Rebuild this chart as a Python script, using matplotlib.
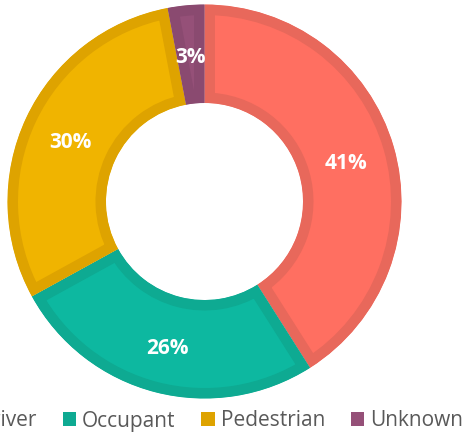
import matplotlib
matplotlib.use("Agg")
import matplotlib.pyplot as plt
from matplotlib.patches import Patch

categories = ["Driver", "Occupant", "Pedestrian", "Unknown"]
values = [41, 26, 30, 3]
fill_colors = ["#FF6F61", "#0DB8A0", "#F0B400", "#955078"]
edge_colors = ["#E8685B", "#0EAA92", "#DEA300", "#8A4A70"]
legend_colors = ["#E8685B", "#0EAA92", "#DEA300", "#955078"]

plt.rcParams['font.family'] = ['Open Sans', 'DejaVu Sans']

W, H = 464, 434
cx, cy, R = 204.5, 201.5, 197.0
fig = plt.figure(figsize=(W / 100, H / 100), dpi=100)
ax = fig.add_axes([0, 0, 1, 1])
ax.axis('off')

wedges, texts, autotexts = ax.pie(
    values, colors=fill_colors, startangle=90, counterclock=False,
    radius=1.0, wedgeprops=dict(width=0.5, linewidth=0),
    autopct=lambda p: f"{p:.0f}%", pctdistance=0.75,
    textprops=dict(color="white", fontweight="bold", fontsize=15))
ax.set_aspect('auto')
ax.set_xlim(-cx / R, (W - cx) / R)
ax.set_ylim(-(H - cy) / R, cy / R)

for t in autotexts:
    x, y = t.get_position()
    t.set_position((x, y - 3.5 / R))

border_px = 10.5
for w, ec in zip(wedges, edge_colors):
    w.set_edgecolor(ec)
    w.set_linewidth(2 * border_px * 0.72)
    w.set_clip_on(True)
    w.set_clip_path(w)

handles = [Patch(facecolor=c, edgecolor='none') for c in legend_colors]
fig.legend(handles, categories, ncol=4, loc='center left',
           bbox_to_anchor=(-42 / W, 1 - 421 / H), frameon=False,
           borderaxespad=0, borderpad=0, handlelength=0.65, handleheight=0.65,
           handletextpad=0.28, columnspacing=1.24, fontsize=15,
           labelcolor="#595959")

fig.savefig("out.png", dpi=100)
